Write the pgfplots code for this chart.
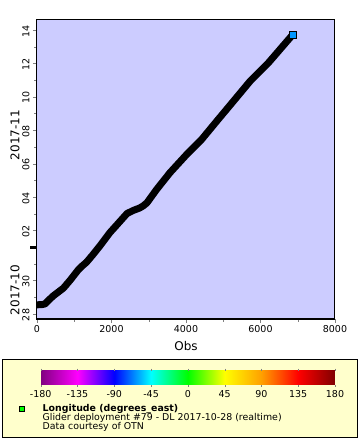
\documentclass[border=0pt]{standalone}
\usepackage{pgfplots}
\pgfplotsset{compat=1.18}
\usepackage{fontspec}
\setmainfont{DejaVu Sans}
\definecolor{plotbg}{RGB}{204,204,255}
\definecolor{legbg}{RGB}{255,255,204}
\definecolor{mkblue}{RGB}{0,150,255}
\definecolor{mkgreen}{RGB}{0,255,0}
\begin{document}
\begin{tikzpicture}[x=1pt,y=1pt]
\fill[white] (0,0) rectangle (360,440);
\path[use as bounding box] (0,0) rectangle (360,440);
\filldraw[fill=legbg, draw=black, line width=1pt] (2.5,2.5) rectangle (357.5,80.5);
\begin{axis}[
  at={(37pt,121pt)}, anchor=south west,
  scale only axis, width=298pt, height=299pt,
  xmin=0, xmax=8000, ymin=-0.3, ymax=17.6,
  axis background/.style={fill=plotbg},
  axis line style={line width=1pt},
  tick align=outside, xtick pos=bottom, ytick pos=left,
  major tick length=4pt, minor tick length=2.5pt,
  xtick={0,2000,4000,6000,8000},
  minor xtick={1000,3000,5000,7000},
  scaled x ticks=false,
  xticklabels={0,2000,4000,6000,8000},
  ytick={0,2,5,7,9,11,13,15,17},
  yticklabels={28,30,02,04,06,08,10,12,14},
  minor ytick={1,3,6,8,10,12,14,16},
  clip=false,
  xticklabel style={font=\fontsize{9.5}{10}\selectfont, yshift=1pt},
  yticklabel style={font=\fontsize{9.5}{10}\selectfont, rotate=90, anchor=south, xshift=-1pt},
  xlabel={Obs}, xlabel style={font=\fontsize{12}{13}\selectfont, yshift=-2pt},
  colormap={erd}{rgb255=(128,0,128) rgb255=(255,0,255) rgb255=(0,0,255) rgb255=(0,255,255) rgb255=(0,255,0) rgb255=(255,255,0) rgb255=(255,160,0) rgb255=(255,0,0) rgb255=(128,0,0)},
  point meta min=-180, point meta max=180,
  colorbar horizontal,
  colorbar style={
    at={(parent axis.south west)}, anchor=north west, xshift=3.7pt, yshift=-43pt,
    scale only axis, width=294.3pt, height=14.3pt,
    xtick={-180,-135,-90,-45,0,45,90,135,180},
    xticklabels={-180,-135,-90,-45,0,45,90,135,180},
    xticklabel style={font=\fontsize{9.5}{10}\selectfont},
    tick align=outside, major tick length=2pt,
    axis line style={draw=none},
  },
]
\addplot[black, line width=7pt, line join=round, mark=none] coordinates {
(0,0.55) (120,0.56) (215,0.6) (300,0.8) (440,1.09) (710,1.55) (900,2.05) (1110,2.65) (1200,2.85) (1330,3.1) (1500,3.55) (1690,4.08) (1960,4.88) (2150,5.35) (2318,5.77) (2420,6.02) (2586,6.2) (2760,6.35) (2850,6.47) (2950,6.65) (3213,7.46) (3570,8.46) (4018,9.55) (4420,10.45) (4824,11.54) (5270,12.73) (5718,13.93) (6210,15.03) (6864,16.72)
};
\addplot[only marks, mark=square*, mark size=3.5pt, mark options={fill=mkblue, draw=black, line width=1pt}] coordinates {(6864,16.72)};
\draw[line width=3pt] (axis cs:0,4) -- ++(-7pt,0pt);
\end{axis}
\node[rotate=90, font=\fontsize{12}{13}\selectfont] at (15,305) {2017-11};
\node[rotate=90, font=\fontsize{12}{13}\selectfont] at (15,150) {2017-10};
\filldraw[fill=mkgreen, draw=black, line width=0.8pt] (19,28.5) rectangle (24.5,34);
\node[anchor=west, inner sep=0pt, font=\fontsize{9.4}{10}\selectfont\bfseries] at (42.5,31) {Longitude (degrees\_east)};
\node[anchor=west, inner sep=0pt, font=\fontsize{9.4}{10}\selectfont] at (42.5,22.3) {Glider deployment \#79 - DL 2017-10-28 (realtime)};
\node[anchor=west, inner sep=0pt, font=\fontsize{9.4}{10}\selectfont] at (42.5,13.3) {Data courtesy of OTN};
\end{tikzpicture}
\end{document}
